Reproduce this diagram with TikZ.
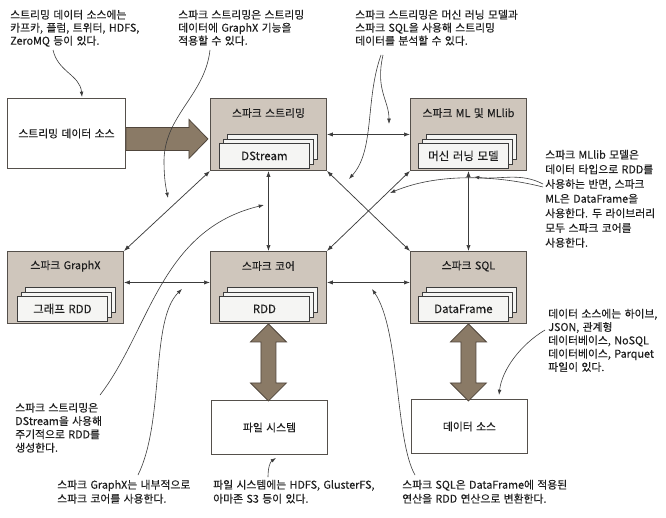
\documentclass[tikz,border=0pt]{standalone}
\usepackage{fontspec}
\setmainfont{Noto Sans CJK KR}[WordSpace=1.4,FakeBold=0.2]
\usetikzlibrary{arrows.meta,calc}
\definecolor{boxfill}{RGB}{207,198,188}
\definecolor{boxline}{RGB}{85,80,75}
\definecolor{pagefill}{RGB}{245,245,243}
\definecolor{fatfill}{RGB}{138,122,102}
\definecolor{fatline}{RGB}{80,70,60}
\definecolor{txt}{RGB}{30,30,30}
\definecolor{ln}{RGB}{60,60,60}
\newcommand{\pstack}[4]{%
  \node[pg] at (#2+8,#3-9) {};
  \node[pg] at (#2+4,#3-4.5) {};
  \node[pg, font=\fontsize{8.6pt}{9pt}\selectfont] (#1) at (#2,#3) {#4};}
\newcommand{\fatdbl}[1]{\draw[fat] (#1) -- ++(18,18) -- ++(-10.5,0) -- ++(0,41) -- ++(10.5,0) -- ++(-18,18) -- ++(-18,-18) -- ++(10.5,0) -- ++(0,-41) -- ++(-10.5,0) -- cycle;}
\begin{document}
\begin{tikzpicture}[x=0.75pt,y=-0.75pt,
  box/.style={draw=boxline, fill=boxfill, line width=0.7pt, minimum width=87pt, minimum height=54pt, anchor=north west, inner sep=0},
  wbox/.style={draw=boxline, fill=white, line width=0.7pt, anchor=north west, inner sep=0, minimum width=87pt, minimum height=40.5pt, text=txt, font=\fontsize{8.1pt}{9pt}\selectfont},
  pg/.style={draw=ln, fill=pagefill, line width=0.6pt, minimum width=67.5pt, minimum height=18.75pt, anchor=north west, inner sep=0, text=txt},
  ttl/.style={font=\fontsize{8.1pt}{9pt}\selectfont, text=txt, inner sep=0},
  note/.style={align=left, anchor=north west, inner sep=0, text=txt, font=\fontsize{8.1pt}{#1}\selectfont},
  note/.default=10pt,
  link/.style={draw=ln, line width=0.55pt, {Latex[length=4.5pt,width=3.2pt]}-{Latex[length=4.5pt,width=3.2pt]}},
  call/.style={draw=ln, line width=0.45pt, -{Latex[length=4pt,width=2.8pt]}},
  fat/.style={draw=fatline, fill=fatfill, line width=0.6pt, line join=miter}]
\useasboundingbox[fill=white] (0,0) rectangle (666,517);

% boxes
\node[wbox, minimum width=88.5pt, minimum height=52.5pt] (sds) at (7,98) {스트리밍 데이터 소스};
\node[box] (stream) at (210,98) {};
\node[ttl] at ($(stream.north)+(0,15)$) {스파크 스트리밍};
\pstack{dstream}{219}{143}{DStream}
\node[box] (ml) at (410,98) {};
\node[ttl] at ($(ml.north)+(0,15)$) {스파크 ML 및 MLlib};
\pstack{mlmodel}{418}{143}{머신 러닝 모델}
\node[box] (gx) at (7,251) {};
\node[ttl] at ($(gx.north)+(0,15)$) {스파크 GraphX};
\pstack{grdd}{17}{296}{그래프 RDD}
\node[box] (core) at (210,251) {};
\node[ttl] at ($(core.north)+(0,15)$) {스파크 코어};
\pstack{rdd}{219}{296}{RDD}
\node[box] (sql) at (410,251) {};
\node[ttl] at ($(sql.north)+(0,15)$) {스파크 SQL};
\pstack{df}{418}{296}{DataFrame}
\node[wbox] (fs) at (211,400) {파일 시스템};
\node[wbox] (ds) at (411,399) {데이터 소스};

% fat arrows
\draw[fat] (sds.east) ++(0,-6) -- ++(63,0) -- ++(0,-8) -- ++(19,19.5) -- ++(-19,19.5) -- ++(0,-8) -- ++(-63,0) -- cycle;
\fatdbl{core.south}
\fatdbl{sql.south}

% links
\draw[link] (stream.east) -- (ml.west);
\draw[link] (stream.south) -- (core.north);
\draw[link] (stream.south east) -- (sql.north west);
\draw[link] (ml.south west) -- (core.north east);
\draw[link] (stream.south west) -- (gx.north east);
\draw[link] ([yshift=3.75pt]gx.east) -- ([yshift=3.75pt]core.west);
\draw[link] ([yshift=3.75pt]core.east) -- ([yshift=3.75pt]sql.west);
\draw[link] (ml.south) -- (sql.north);

% notes
\node[note=9.75pt] (n1) at (10,9.5) {스트리밍 데이터 소스에는\\카프카, 플럼, 트위터, HDFS,\\ZeroMQ 등이 있다.};
\node[note=9.75pt] (n2) at (178,9.5) {스파크 스트리밍은 스트리밍\\데이터에 GraphX 기능을\\적용할 수 있다.};
\node[note=9.75pt] (n3) at (355,9.5) {스파크 스트리밍은 머신 러닝 모델과\\스파크 SQL을 사용해 스트리밍\\데이터를 분석할 수 있다.};
\node[note=11pt] (n4) at (545,149.5) {스파크 MLlib 모델은\\데이터 타입으로 RDD를\\사용하는 반면, 스파크\\ML은 DataFrame을\\사용한다. 두 라이브러리\\모두 스파크 코어를\\사용한다.};
\node[note=10pt] (n5) at (548,308.5) {데이터 소스에는 하이브,\\JSON, 관계형\\데이터베이스, NoSQL\\데이터베이스, Parquet\\파일이 있다.};
\node[note=10pt] (n6) at (15,402.5) {스파크 스트리밍은\\DStream을 사용해\\주기적으로 RDD를\\생성한다.};
\node[note=10.5pt] (n7) at (57,479.5) {스파크 GraphX는 내부적으로\\스파크 코어를 사용한다.};
\node[note=10.5pt] (n8) at (213,479.5) {파일 시스템에는 HDFS, GlusterFS,\\아마존 S3 등이 있다.};
\node[note=10.5pt] (n9) at (402,479.5) {스파크 SQL은 DataFrame에 적용된\\연산을 RDD 연산으로 변환한다.};

% callout curves
\coordinate (c1s) at (53,50);   \coordinate (c1e) at (82,97);
\coordinate (c2s) at (210,50);  \coordinate (c2m) at (164,160); \coordinate (c2e) at (168,198);
\coordinate (c3s) at (383,55);  \coordinate (c3e) at (389,124);
\coordinate (c3t) at (381,55);  \coordinate (c3f) at (349,179);
\coordinate (c4s) at (543,184); \coordinate (c4e) at (474,177);
\coordinate (c4t) at (543,187); \coordinate (c4f) at (390,193);
\coordinate (c5s) at (100,395); \coordinate (c5e) at (264,205);
\coordinate (c6s) at (138,475); \coordinate (c6e) at (182,289);
\coordinate (c7s) at (268,477); \coordinate (c7e) at (276,458);
\coordinate (c8s) at (415,475); \coordinate (c8e) at (372,289);
\coordinate (c9s) at (545,330); \coordinate (c9e) at (499,395);
\draw[call] (c1s) .. controls (58,72) and (80,75) .. (c1e);
\draw[call] (c2s) .. controls (205,95) and (165,115) .. (c2m) .. controls (164,180) and (166,188) .. (c2e);
\draw[call] (c3s) .. controls (375,90) and (389,100) .. (c3e);
\draw[call] (c3t) .. controls (365,100) and (375,150) .. (c3f);
\draw[call] (c4s) .. controls (520,172) and (500,180) .. (c4e);
\draw[call] (c4t) .. controls (500,176) and (440,172) .. (c4f);
\draw[call] (c5s) .. controls (150,330) and (160,230) .. (c5e);
\draw[call] (c6s) .. controls (165,420) and (150,320) .. (c6e);
\draw[call] (c7s) .. controls (268,468) and (270,462) .. (c7e);
\draw[call] (c8s) .. controls (395,440) and (400,330) .. (c8e);
\draw[call] (c9s) .. controls (520,345) and (502,370) .. (c9e);
\end{tikzpicture}
\end{document}
